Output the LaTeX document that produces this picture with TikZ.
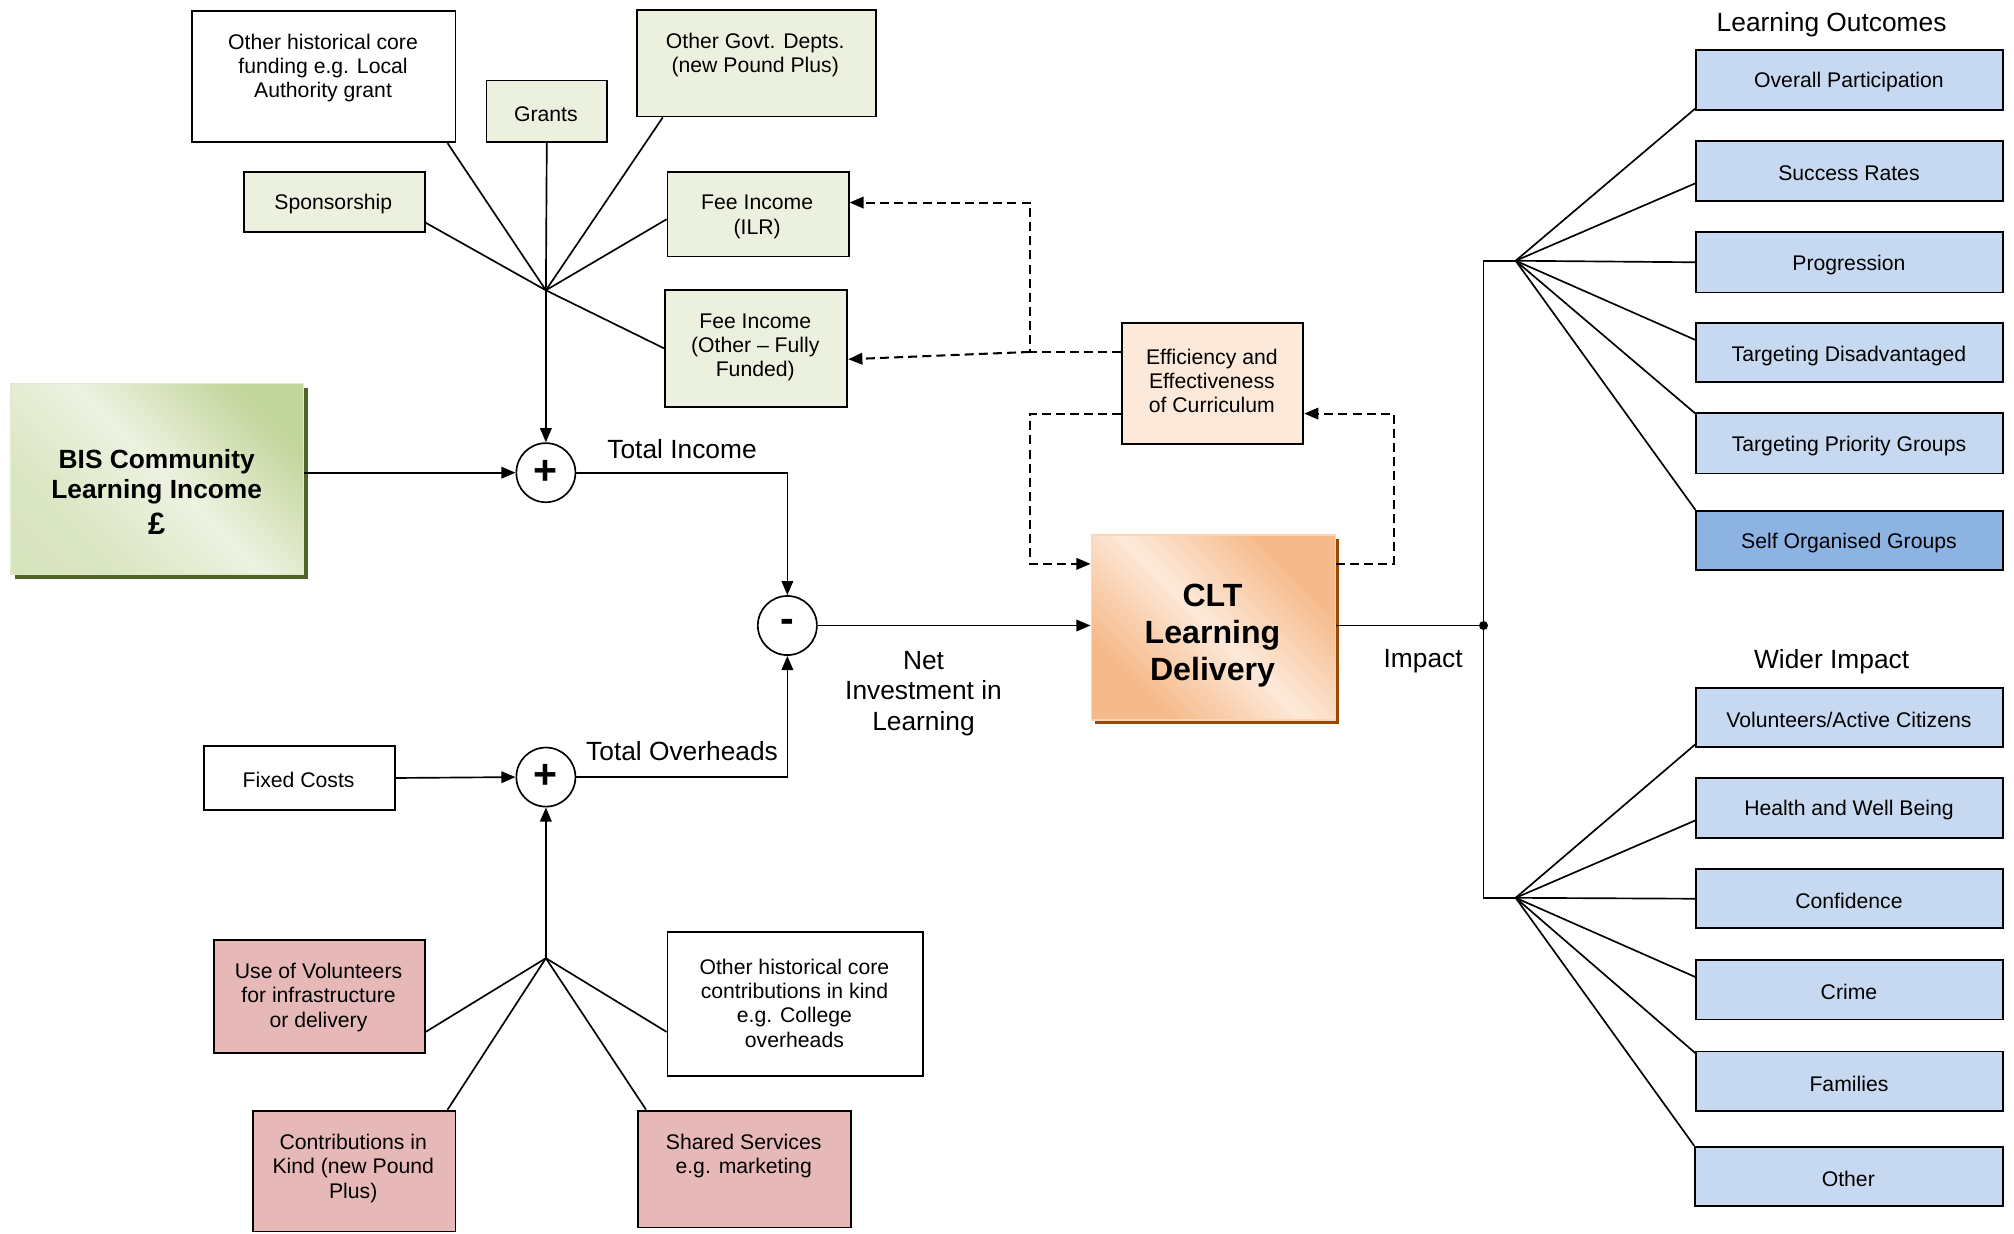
\documentclass[tikz,border=0pt]{standalone}
\usepackage{fontspec}
\setmainfont{Liberation Sans}
\usetikzlibrary{arrows.meta,calc,shadows}
\definecolor{gfill}{HTML}{EBF1DE}
\definecolor{pfill}{HTML}{E6B9B8}
\definecolor{bfill}{HTML}{C6D9F1}
\definecolor{dbfill}{HTML}{8DB3E2}
\definecolor{efill}{HTML}{FDE9D9}
\definecolor{bislight}{HTML}{EDF2E1}
\definecolor{bisdark}{HTML}{C3D69B}
\definecolor{bisshadow}{HTML}{4F6228}
\definecolor{cltlight}{HTML}{FDE9D9}
\definecolor{cltdark}{HTML}{F6BA8A}
\definecolor{cltshadow}{HTML}{984807}
\pgfdeclarehorizontalshading{cltshade}{100bp}{color(0bp)=(cltdark); color(28bp)=(cltdark); color(50bp)=(cltlight); color(72bp)=(cltdark); color(100bp)=(cltdark)}
\pgfdeclarehorizontalshading{bisshade}{100bp}{color(0bp)=(bisdark!60!bislight); color(30bp)=(bisdark!45!bislight); color(52bp)=(bislight); color(75bp)=(bisdark); color(100bp)=(bisdark)}
\newcommand\mkbox[6]{\node[boxbase, fill=#6, minimum width={#4-#2}, minimum height={#5-#3}] (#1) at (#2,#3) {};}
\tikzset{
  boxbase/.style={draw=black, line width=1.4pt, inner sep=0pt, anchor=north west},
  sm/.style={align=center, inner sep=0pt, yshift=-2pt, font=\fontsize{16.5}{19}\selectfont},
  ttl/.style={align=center, inner sep=0pt, yshift=-2pt, font=\fontsize{20.5}{24}\selectfont},
  ln/.style={line width=1.3pt},
  arr/.style={-{Triangle[length=11pt,width=9pt]}},
  dsh/.style={line width=1.6pt, dash pattern=on 7pt off 4pt},
  sumc/.style={circle, draw, line width=1.3pt, minimum size=46pt, inner sep=0pt, font=\fontsize{32}{32}\selectfont\bfseries}
}
\begin{document}
\begin{tikzpicture}[x=1pt, y=-1pt]
\useasboundingbox (0,0) rectangle (1568,960);
% ---------- income sources ----------
\mkbox{ohc}{149}{8}{354}{110}{white}
\node[sm] (tohc) at (251.5,51) {Other historical core\\funding e.g. Local\\Authority grant};
\mkbox{grants}{378}{62}{472}{110}{gfill}
\node[sm] (tgrants) at (425,87) {Grants};
\mkbox{ogd}{495}{7}{681}{90}{gfill}
\node[sm] (togd) at (588,41) {Other Govt. Depts.\\(new Pound Plus)};
\mkbox{spons}{189}{133}{330}{180}{gfill}
\node[sm] (tspons) at (259.5,157) {Sponsorship};
\mkbox{feeilr}{519}{133}{660}{199}{gfill}
\node[sm] (tfeeilr) at (589.5,167) {Fee Income\\(ILR)};
\mkbox{feeoth}{517}{225}{659}{316}{gfill}
\node[sm] (tfeeoth) at (588,268.5) {Fee Income\\(Other -- Fully\\Funded)};
\coordinate (hub1) at (425,226);
\draw[ln] (hub1) -- ($(ohc.south east)+(-7,0)$);
\draw[ln] (hub1) -- (grants.south);
\draw[ln] (hub1) -- ($(ogd.south west)+(21,0)$);
\draw[ln] (hub1) -- ($(spons.south east)+(0,-8)$);
\draw[ln] (hub1) -- ($(feeilr.west)+(0,4)$);
\draw[ln] (hub1) -- (feeoth.west);
% ---------- BIS and sums ----------
\node[anchor=north west, minimum width=228pt, minimum height=149pt, inner sep=0pt,
      draw=bisdark!50!white, line width=1pt, shading=bisshade, shading angle=45,
      drop shadow={shadow xshift=3pt, shadow yshift=-3.5pt, fill=bisshadow, opacity=1}] (bis) at (8,298) {};
\node[align=center, inner sep=0pt, font=\fontsize{20.5}{23.5}\selectfont\bfseries] (tbis) at (122,383) {BIS Community\\Learning Income\\[4pt]\fontsize{24}{26}\selectfont\pounds};
\node[sumc] (plus1) at (425,368) {\raisebox{1pt}{+}};
\draw[ln, arr] (hub1) -- (plus1.north);
\draw[ln, arr] (bis.east |- plus1.west) -- (plus1.west);
\node[ttl] (ttotinc) at (531,348) {Total Income};
\node[sumc] (minus) at (613,487) {\raisebox{-6pt}{-}};
\draw[ln, arr] (plus1.east) -| (minus.north);
% ---------- overheads ----------
\mkbox{fixed}{158}{580}{307}{630}{white}
\node[sm] (tfixed) at (232.5,605) {Fixed Costs};
\node[sumc] (plus2) at (425,605) {\raisebox{1pt}{+}};
\draw[ln, arr] (fixed.east) -- (plus2.west);
\node[ttl] (ttotover) at (531,583) {Total Overheads};
\draw[ln, arr] (plus2.east) -| (minus.south);
\coordinate (hub4) at (425,746);
\draw[ln, arr] (hub4) -- (plus2.south);
\mkbox{vol2}{166}{731}{330}{819}{pfill}
\node[sm] (tvol2) at (248,774.5) {Use of Volunteers\\for infrastructure\\or delivery};
\mkbox{cik}{196}{864}{354}{958}{pfill}
\node[sm] (tcik) at (275,907.5) {Contributions in\\Kind (new Pound\\Plus)};
\mkbox{ss}{496}{864}{662}{955}{pfill}
\node[sm] (tss) at (579,898) {Shared Services\\e.g. marketing};
\mkbox{ohc2}{519}{725}{718}{837}{white}
\node[sm] (tohc2) at (618.5,779) {Other historical core\\contributions in kind\\e.g. College\\overheads};
\draw[ln] (hub4) -- ($(vol2.south east)+(0,-17)$);
\draw[ln] (hub4) -- ($(cik.north east)+(-7,0)$);
\draw[ln] (hub4) -- ($(ss.north west)+(7,0)$);
\draw[ln] (hub4) -- ($(ohc2.south west)+(0,-35)$);
% ---------- CLT delivery ----------
\node[anchor=north west, minimum width=190pt, minimum height=144pt, inner sep=0pt,
      draw=cltdark!60!white, line width=1pt, shading=cltshade, shading angle=45,
      drop shadow={shadow xshift=3pt, shadow yshift=-3.5pt, fill=cltshadow, opacity=1}] (clt) at (849,416) {};
\node[align=center, inner sep=0pt, font=\fontsize{25}{29}\selectfont\bfseries] (tclt) at (944,495) {CLT\\Learning\\Delivery};
\draw[ln, arr] (minus.east) -- (minus.east -| clt.west);
\node[ttl] (tnet) at (719,538) {Net\\Investment in\\Learning};
\mkbox{eff}{873}{251}{1014}{345}{efill}
\node[sm] (teff) at (943.5,294.5) {Efficiency and\\Effectiveness\\of Curriculum};
\coordinate (j1) at (802,274);
\draw[dsh, arr] ($(eff.north west)+(0,23)$) -- (j1) |- ($(feeilr.east)+(0,-9)$);
\draw[dsh, arr] (j1) -- ($(feeoth.east)+(0,8.5)$);
\coordinate (j4) at (802,322);
\draw[dsh, arr] ($(eff.north west)+(0,71)$) -- (j4) |- ($(clt.north west)+(0,23)$);
\coordinate (j5) at (1085,439);
\draw[dsh, arr] ($(clt.north east)+(0,23)$) -- (j5) |- ($(eff.north east)+(0,71)$);
% ---------- impact ----------
\node[circle, fill, inner sep=0pt, minimum size=7pt] (dot) at (1155,487) {};
\draw[ln] (clt.east |- dot) -- (dot);
\node[ttl] (timpact) at (1108,513) {Impact};
\coordinate (j2) at (1155,203);
\coordinate (j3) at (1155,699);
\coordinate (hub2) at (1180,203);
\coordinate (hub3) at (1180,699);
\draw[ln] (hub2) -- (j2) -- (j3) -- (hub3);
\node[ttl] (tlo) at (1426,17) {Learning Outcomes};
\mkbox{op}{1320}{38}{1559}{85}{bfill}
\node[sm] (top) at (1439.5,62) {Overall Participation};
\mkbox{sr}{1320}{109}{1559}{156}{bfill}
\node[sm] (tsr) at (1439.5,133) {Success Rates};
\mkbox{pr}{1320}{180}{1559}{227}{bfill}
\node[sm] (tpr) at (1439.5,204) {Progression};
\mkbox{td}{1320}{251}{1559}{297}{bfill}
\node[sm] (ttd) at (1439.5,275) {Targeting Disadvantaged};
\mkbox{tp}{1320}{321}{1559}{368}{bfill}
\node[sm] (ttp) at (1439.5,345.5) {Targeting Priority Groups};
\mkbox{so}{1320}{397}{1559}{443}{dbfill}
\node[sm] (tso) at (1439.5,420.5) {Self Organised Groups};
\draw[ln] (hub2) -- ($(op.south west)+(0,-2)$);
\draw[ln] (hub2) -- ($(sr.west)+(0,9.5)$);
\draw[ln] (hub2) -- (pr.west);
\draw[ln] (hub2) -- ($(td.west)+(0,-10)$);
\draw[ln] (hub2) -- ($(tp.north west)+(0,1)$);
\draw[ln] (hub2) -- (so.north west);
\node[ttl] (twi) at (1426,513) {Wider Impact};
\mkbox{vol}{1320}{535}{1559}{581}{bfill}
\node[sm] (tvol) at (1439.5,558.5) {Volunteers/Active Citizens};
\mkbox{hwb}{1320}{605}{1559}{652}{bfill}
\node[sm] (thwb) at (1439.5,629) {Health and Well Being};
\mkbox{conf}{1320}{676}{1559}{722}{bfill}
\node[sm] (tconf) at (1439.5,699.5) {Confidence};
\mkbox{crime}{1320}{747}{1559}{793}{bfill}
\node[sm] (tcrime) at (1439.5,770.5) {Crime};
\mkbox{fam}{1320}{818}{1559}{864}{bfill}
\node[sm] (tfam) at (1439.5,841.5) {Families};
\mkbox{oth}{1319}{892}{1559}{938}{bfill}
\node[sm] (toth) at (1439,915.5) {Other};
\draw[ln] (hub3) -- ($(vol.south west)+(0,-3)$);
\draw[ln] (hub3) -- ($(hwb.west)+(0,9.5)$);
\draw[ln] (hub3) -- (conf.west);
\draw[ln] (hub3) -- ($(crime.west)+(0,-10)$);
\draw[ln] (hub3) -- ($(fam.north west)+(0,2)$);
\draw[ln] (hub3) -- (oth.north west);
\end{tikzpicture}
\end{document}
